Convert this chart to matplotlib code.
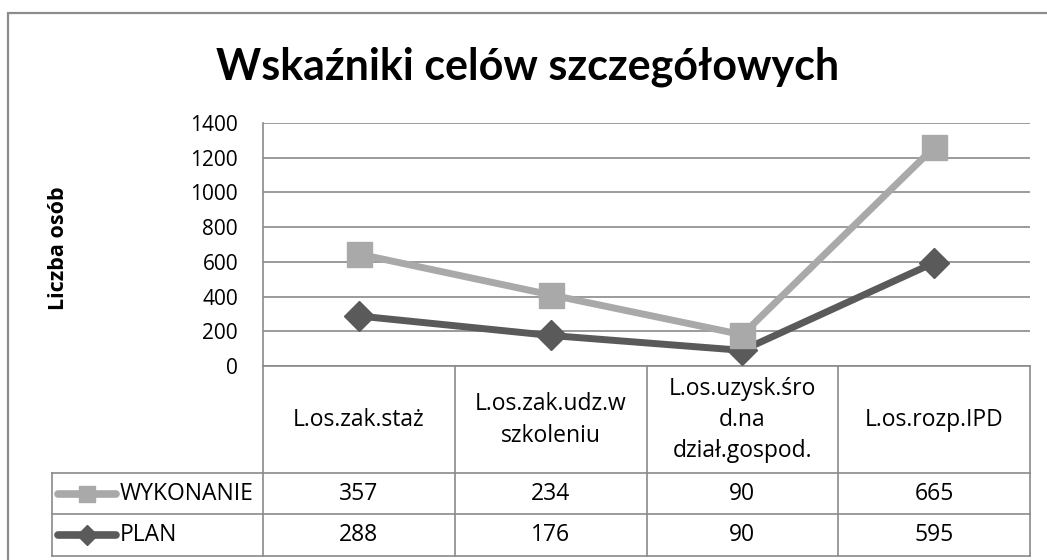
import matplotlib
matplotlib.use("Agg")
import matplotlib.pyplot as plt
from matplotlib.patches import Rectangle
from matplotlib.lines import Line2D

categories = ["L.os.zak.staż", "L.os.zak.udz.w\nszkoleniu",
              "L.os.uzysk.śro\nd.na\ndział.gospod.", "L.os.rozp.IPD"]
wykonanie = [357, 234, 90, 665]
plan = [288, 176, 90, 595]
series_names = ["WYKONANIE", "PLAN"]
yticks = [0, 200, 400, 600, 800, 1000, 1200, 1400]

# stacked line chart: WYKONANIE is drawn on top of PLAN
wyk_stacked = [p + w for p, w in zip(plan, wykonanie)]

W, H = 1047, 560
plt.rcParams['font.family'] = ['Open Sans', 'DejaVu Sans']
fig = plt.figure(figsize=(W / 100, H / 100), dpi=100)

def fx(px):
    return px / W

def fy(py):
    return 1 - py / H

grid_c = "#8a8a8a"
light = "#a9a9a9"
dark = "#5a5a5a"
fs_num = 15
fs_txt = 16.5

# outer chart border
fig.patches.append(Rectangle((fx(8), fy(575)), fx(1060) - fx(8), fy(13) - fy(575),
                             transform=fig.transFigure, fill=False,
                             edgecolor="#8c8c8c", lw=1.6))

fig.text(fx(528), fy(80), "Wskaźniki celów szczegółowych", ha="center",
         va="baseline", fontsize=31, fontweight="bold", family=["Lato", "DejaVu Sans"])
fig.text(fx(59), fy(248), "Liczba osób", rotation=90, ha="center", va="center",
         fontsize=15.5, fontweight="bold")

# plot area
x0, x1, ytop, ybot = 263, 1030, 123, 366
ax = fig.add_axes([fx(x0), fy(ybot), fx(x1) - fx(x0), fy(ytop) - fy(ybot)])
ax.set_xlim(-0.5, 3.5)
ax.set_ylim(0, 1400)
ax.set_yticks(yticks)
ax.set_xticks([])
ax.tick_params(axis="y", length=0, pad=18, labelsize=fs_num)
for s in ["top", "right"]:
    ax.spines[s].set_visible(False)
for s in ["left", "bottom"]:
    ax.spines[s].set_color(grid_c)
    ax.spines[s].set_linewidth(1.2)
ax.grid(axis="y", color=grid_c, lw=1.2)
ax.set_axisbelow(True)

xs = list(range(len(categories)))
ax.plot(xs, plan, color=dark, lw=5, marker="D", ms=15, clip_on=False, zorder=3)
ax.plot(xs, wyk_stacked, color=light, lw=5, marker="s", ms=18, clip_on=False, zorder=4)

# data table below the plot
tl = 52
colw = (x1 - x0) / len(categories)
tax = fig.add_axes([fx(tl), fy(556), fx(x1) - fx(tl), fy(ybot) - fy(556)])
tax.set_xlim(-0.5 - (x0 - tl) / colw, 3.5)
tax.set_ylim(556, ybot)
tax.axis("off")
lkw = dict(color=grid_c, lw=1.2, clip_on=False)
for b in [-0.5, 0.5, 1.5, 2.5, 3.5]:
    tax.plot([b, b], [ybot, 556], **lkw)
xl = -0.5 - (x0 - tl) / colw
tax.plot([xl, xl], [473, 556], **lkw)
for yy in [473, 514, 556]:
    tax.plot([xl, 3.5], [yy, yy], **lkw)

for i, c in enumerate(categories):
    tax.text(i, 420, c, ha="center", va="center", fontsize=fs_txt, linespacing=1.4)

rows = [(wykonanie, 494, light, "s", 12), (plan, 535, dark, "D", 10)]
for name, (vals, yc, col, mk, ms) in zip(series_names, rows):
    for i, v in enumerate(vals):
        tax.text(i, yc, str(v), ha="center", va="center", fontsize=fs_txt)
    sx0 = xl + (58 - tl) / colw
    sx1 = xl + (116 - tl) / colw
    tax.add_line(Line2D([sx0, sx1], [yc, yc], color=col, lw=5.5,
                        solid_capstyle="round", clip_on=False))
    tax.plot([(sx0 + sx1) / 2], [yc], marker=mk, ms=ms, color=col, clip_on=False)
    tax.text(xl + (120 - tl) / colw, yc, name, ha="left", va="center", fontsize=fs_txt)

fig.savefig("out.png", dpi=100)
